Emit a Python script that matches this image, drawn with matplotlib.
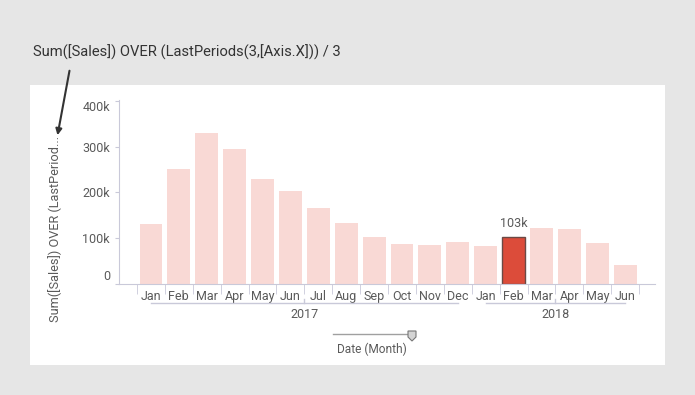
#!/usr/bin/env python3
"""Rolling 3-month average of sales, bar chart with one highlighted month."""

import matplotlib
matplotlib.use("Agg")
import matplotlib.pyplot as plt
from matplotlib.patches import Polygon, Rectangle, FancyArrowPatch
from matplotlib.transforms import blended_transform_factory

plt.rcParams["font.family"] = ["Roboto", "DejaVu Sans"]

months = ["Jan", "Feb", "Mar", "Apr", "May", "Jun", "Jul", "Aug", "Sep", "Oct",
          "Nov", "Dec", "Jan", "Feb", "Mar", "Apr", "May", "Jun"]
values = [131000, 251000, 331000, 296000, 230000, 203000, 166000, 133000, 102000,
          87000, 85000, 91000, 82000, 103000, 122000, 120000, 89000, 40000]
years = ["2017", "2018"]
year_spans = [(0, 11), (12, 17)]
highlight = 13
yticks = [0, 100000, 200000, 300000, 400000]
ytick_labels = ["0", "100k", "200k", "300k", "400k"]

W, H = 695, 395
TEXT = "#5a5a5a"
AXIS = "#c9c9d9"

fig = plt.figure(figsize=(W / 100, H / 100), dpi=100)
fig.patch.set_facecolor("#e6e6e6")

# white panel
fig.patches.append(Rectangle((30 / W, 1 - 365 / H), 635 / W, 280 / H,
                             transform=fig.transFigure, facecolor="white",
                             edgecolor="none", zorder=-1))

ax = fig.add_axes([119 / W, 1 - 283.5 / H, 536 / W, 183.5 / H])
ax.set_zorder(2)
ax.set_facecolor("none")

colors = ["#dc4c3a" if i == highlight else "#f9d9d5" for i in range(len(values))]
edges = ["#6b4a45" if i == highlight else "none" for i in range(len(values))]
x = list(range(len(values)))
ax.bar(x, values, width=0.82, color=colors, edgecolor=edges, linewidth=1)
ax.text(highlight, values[highlight] + 14000, "103k", ha="center", va="bottom",
        fontsize=9, color=TEXT)

ax.set_ylim(0, 403000)
ax.set_xlim(-1.145, 18.07)

for s in ["top", "right"]:
    ax.spines[s].set_visible(False)
for s in ["left", "bottom"]:
    ax.spines[s].set_color(AXIS)

ax.set_yticks(yticks)
ax.set_yticklabels(ytick_labels)
ax.tick_params(axis="y", colors=AXIS, labelcolor=TEXT, labelsize=9, length=3)
for lbl in ax.get_yticklabels():
    if lbl.get_text() == "0":
        lbl.set_va("bottom")
    elif lbl.get_text() == "400k":
        lbl.set_va("top")

ax.set_xticks(x)
ax.set_xticklabels(months)
ax.set_xticks([i - 0.5 for i in range(len(values) + 1)], minor=True)
ax.tick_params(axis="x", which="major", length=0, pad=5, labelcolor=TEXT, labelsize=9)
ax.tick_params(axis="x", which="minor", length=7, color=AXIS)

# year brackets
tr = blended_transform_factory(ax.transData, ax.transAxes)
yb = -(303 - 283.5) / 183.5
for name, (a, b) in zip(years, year_spans):
    mid = (a + b) / 2
    ax.plot([a, b], [yb, yb], color=AXIS, lw=1, transform=tr, clip_on=False)
    ax.plot([mid, mid], [yb, yb + 0.02], color=AXIS, lw=1, transform=tr, clip_on=False)
    ax.text(mid, -(314 - 283.5) / 183.5, name, transform=tr, ha="center", va="center",
            fontsize=9, color=TEXT)

# y axis title
fig.text(55 / W, 1 - 229 / H, "Sum([Sales]) OVER (LastPeriod...", rotation=90,
         ha="center", va="center", fontsize=9.2, color=TEXT)

# formula note and arrow
fig.text(33 / W, 1 - 52 / H, "Sum([Sales]) OVER (LastPeriods(3,[Axis.X])) / 3",
         ha="left", va="center", fontsize=10.6, color="#333333")
fig.add_artist(FancyArrowPatch(
    (70 / W, 1 - 68 / H), (57 / W, 1 - 138 / H), transform=fig.transFigure,
    arrowstyle="-|>", mutation_scale=9, color="#333333", lw=1.5))

# date slider
fig.add_artist(plt.Line2D([333 / W, 410 / W], [1 - 334 / H, 1 - 334 / H],
                          transform=fig.transFigure, color="#a0a0a0", lw=1))
hx, hy = 412, 331
shield = [(hx - 4, hy), (hx + 4, hy), (hx + 4, hy + 6), (hx, hy + 10), (hx - 4, hy + 6)]
fig.patches.append(Polygon([(px / W, 1 - py / H) for px, py in shield], closed=True,
                           transform=fig.transFigure, facecolor="#d4d4d4",
                           edgecolor="#777777", lw=0.8, zorder=5))
fig.text(372 / W, 1 - 349 / H, "Date (Month)", ha="center", va="center",
         fontsize=8.6, color=TEXT)

fig.savefig("out.png", dpi=100)
